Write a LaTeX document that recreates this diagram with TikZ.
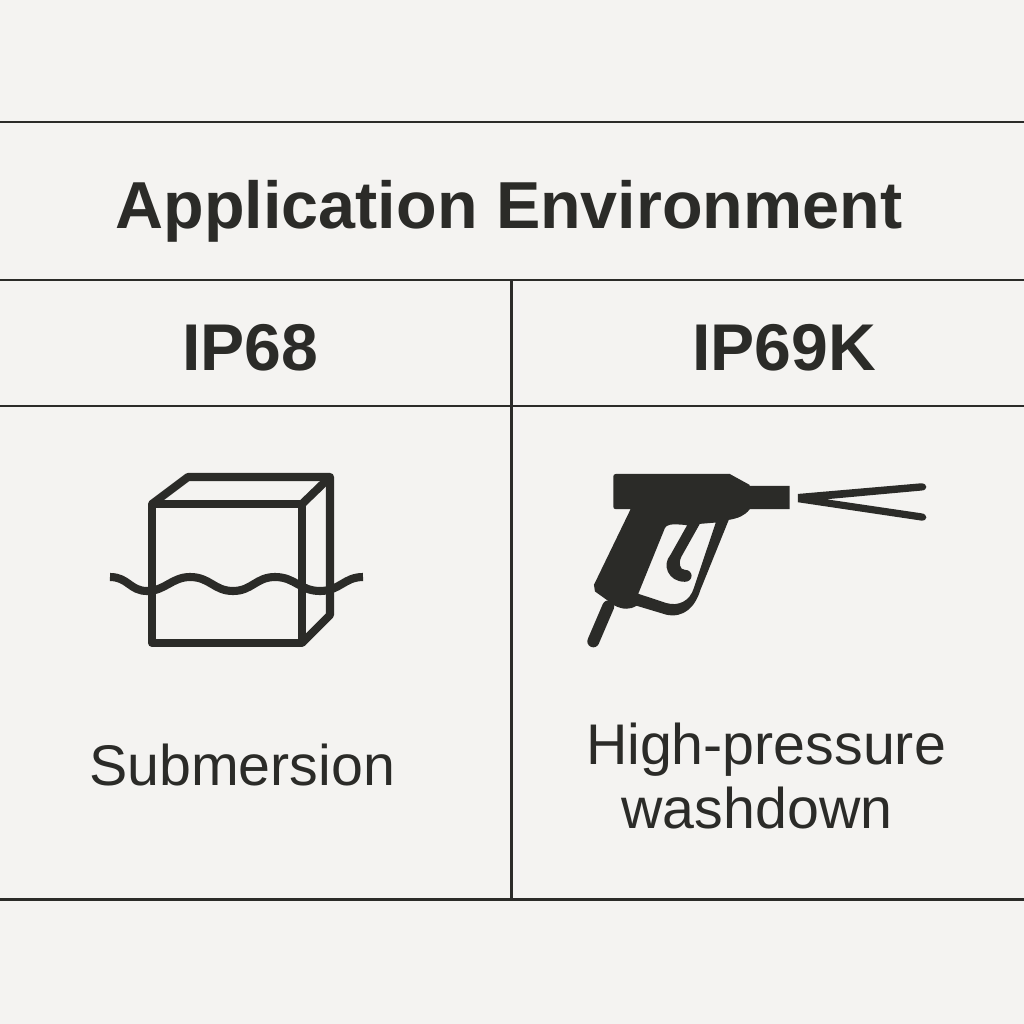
\documentclass[tikz,border=0pt]{standalone}
\usepackage{fontspec}
\setmainfont{Liberation Sans}
\definecolor{paper}{HTML}{F4F3F1}
\definecolor{ink}{HTML}{2B2B28}
\tikzset{
	rule/.style={draw=ink, line width=0.85pt},
	outline/.style={draw=ink, line width=2.3pt, line join=round},
	titletext/.style={text=ink, anchor=base, font=\fontsize{18.9}{23}\selectfont\bfseries},
	headtext/.style={text=ink, anchor=base, font=\fontsize{18.8}{23}\selectfont\bfseries},
	celltext/.style={text=ink, anchor=base, font=\fontsize{16.3}{20}\selectfont}
}
\begin{document}
\begin{tikzpicture}[x=0.01cm, y=-0.01cm]
	\useasboundingbox (0,0) rectangle (1024,1024);
	\fill[paper] (0,0) rectangle (1024,1024); %Fundo
		%Linhas da tabela
	\draw[rule] (0,122) -- (1024,122);
	\draw[rule] (0,280) -- (1024,280);
	\draw[rule] (0,406) -- (1024,406);
	\draw[rule] (0,899) -- (1024,899);
	\draw[rule] (511,280) -- (511,899);
		%Textos
	\node[titletext] (title) at (509,228) {Application Environment};
	\node[headtext] (ipa) at (250,370) {IP68};
	\node[headtext] (ipb) at (784,370) {IP69K};
	\node[celltext] (submersion) at (242,785) {Submersion};
	\node[celltext] (pressure) at (766,764) {High-pressure};
	\node[celltext] (washdown) at (757,828) {washdown};
		%Caixa
	\draw[outline] (152,504) rectangle (302,643);
	\draw[outline] (152,504) -- (188,477) -- (330,477) -- (330,615) -- (302,643);
	\draw[outline] (302,504) -- (330,477);
		%Onda
	\draw[outline] (110,577) .. controls (128,577) and (130,591) .. (147,591)
		.. controls (165,591) and (172,577) .. (190,577)
		.. controls (210,577) and (214,591) .. (233,591)
		.. controls (252,591) and (256,577) .. (275,577)
		.. controls (295,577) and (300,591) .. (320,591)
		.. controls (340,591) and (344,577) .. (363,577);
		%Pistola
	\begin{scope}[shift={(570,450)}, x=0.003333cm, y=-0.003333cm]
		\fill[ink, even odd rule] (138,72) -- (480,72) -- (540,105) -- (540,108) -- (660,108) -- (660,178) -- (540,178)
			.. controls (525,198) and (505,205) .. (477,210) -- (392,420)
			.. controls (375,475) and (340,505) .. (290,495) -- (200,468)
			.. controls (180,480) and (160,480) .. (135,468) -- (75,425) -- (72,405) -- (182,178) -- (138,178)
			.. controls (133,178) and (130,175) .. (130,170) -- (130,80)
			.. controls (130,75) and (133,72) .. (138,72) -- cycle
			(285,235) .. controls (290,225) and (300,220) .. (352,226)
			-- (302,315) .. controls (275,345) and (295,396) .. (345,396)
			.. controls (372,396) and (372,360) .. (345,360)
			.. controls (330,360) and (325,340) .. (335,320) -- (390,222) -- (438,218) -- (372,415)
			.. controls (360,455) and (325,470) .. (290,460) -- (205,432) -- cycle;
		\draw[ink, line width=3.4pt, line cap=round] (115,470) -- (70,575);
		\fill[ink] (685,132) -- (1055,100)
			.. controls (1076,100) and (1076,122) .. (1055,122) -- (770,148) -- (1055,190)
			.. controls (1076,192) and (1076,214) .. (1055,212) -- (685,157) -- cycle;
	\end{scope}
\end{tikzpicture}
\end{document}
